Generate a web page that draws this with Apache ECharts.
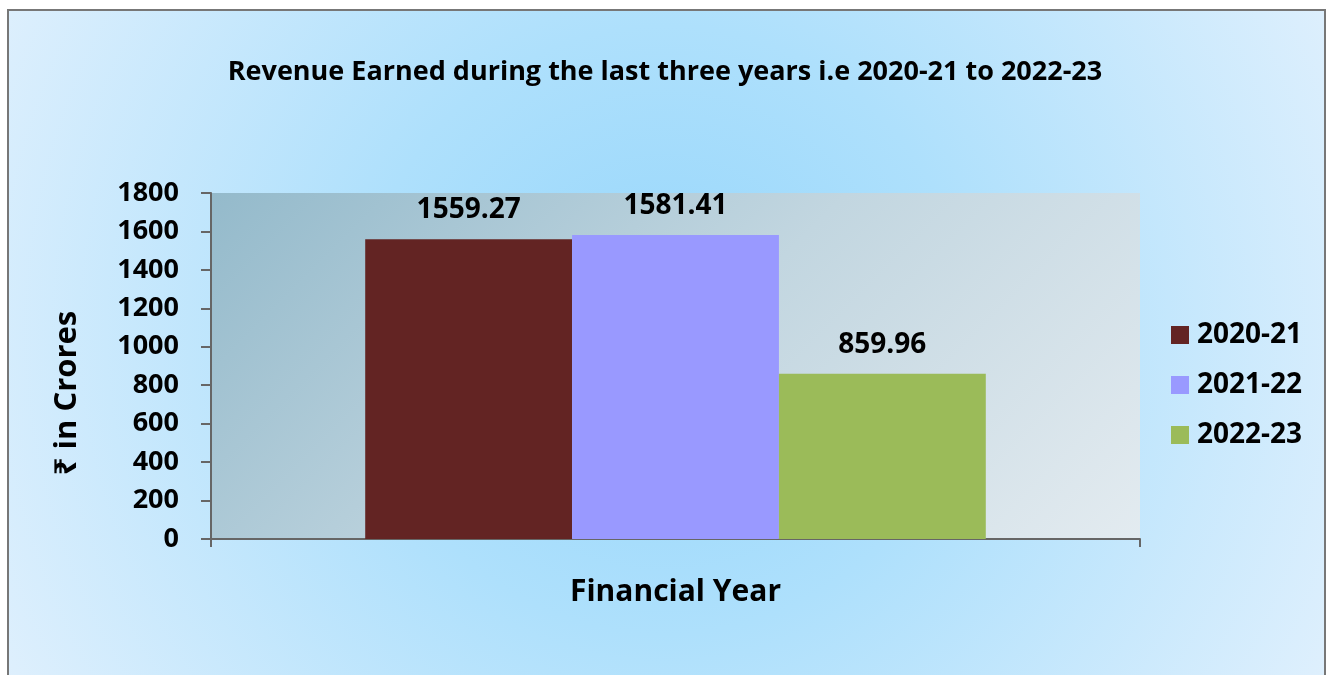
<!DOCTYPE html>
<html>
<head>
<meta charset="utf-8">
<script src="https://cdn.jsdelivr.net/npm/echarts@6/dist/echarts.min.js"></script>
<style>
html,body{margin:0;padding:0;background:#fff;}
#chart{width:1330px;height:675px;}
</style>
</head>
<body>
<div id="chart"></div>
<script>
const titleText = 'Revenue Earned during the last three years i.e 2020-21 to 2022-23';
const categories = [''];
const seriesNames = ['2020-21', '2021-22', '2022-23'];
const seriesValues = [[1559.27], [1581.41], [859.96]];
const seriesColors = ['#632423', '#9999ff', '#9bbb59'];
const yTicks = [0, 200, 400, 600, 800, 1000, 1200, 1400, 1600, 1800];
const yName = '₹ in Crores';
const xName = 'Financial Year';

const FONT = '"Open Sans", "Noto Sans", sans-serif';
const chart = echarts.init(document.getElementById('chart'), null, {renderer: 'canvas'});

const option = {
  backgroundColor: '#ffffff',
  animation: false,
  graphic: [{
    type: 'rect',
    z: -10,
    shape: {x: 8, y: 10, width: 1317, height: 700},
    style: {
      fill: {
        type: 'radial', x: 665, y: 330, r: 760, global: true,
        colorStops: [
          {offset: 0, color: '#96d6fb'},
          {offset: 0.4, color: '#aee0fc'},
          {offset: 1, color: '#e0f0fd'}
        ]
      },
      stroke: '#777777',
      lineWidth: 2
    }
  }],
  title: {
    text: titleText,
    left: 'center',
    top: 54,
    textStyle: {fontFamily: FONT, fontWeight: 'bold', fontSize: 27, color: '#000'}
  },
  legend: {
    orient: 'vertical',
    left: 1166,
    top: 316,
    itemWidth: 18,
    itemHeight: 18,
    itemGap: 22,
    data: seriesNames,
    icon: 'rect',
    textStyle: {fontFamily: FONT, fontWeight: 'bold', fontSize: 28, color: '#000', padding: [0, 0, 0, 3]}
  },
  grid: {
    left: 211, top: 193, width: 929, height: 346,
    show: true,
    borderWidth: 0,
    backgroundColor: {
      type: 'linear', x: 211, y: 193, x2: 848, y2: 830, global: true,
      colorStops: [
        {offset: 0, color: '#94bacb'},
        {offset: 0.5, color: '#c2d6e0'},
        {offset: 1, color: '#e3ebf0'}
      ]
    }
  },
  xAxis: {
    type: 'category',
    data: categories,
    name: xName,
    nameLocation: 'middle',
    nameGap: 38,
    nameTextStyle: {fontFamily: FONT, fontWeight: 'bold', fontSize: 30, color: '#000'},
    axisLine: {show: true, lineStyle: {color: '#666', width: 2}},
    axisTick: {show: true, length: 8, lineStyle: {color: '#666', width: 2}},
    axisLabel: {show: false}
  },
  yAxis: {
    type: 'value',
    min: 0, max: 1800, interval: 200,
    name: yName,
    nameLocation: 'middle',
    nameRotate: 90,
    nameGap: 128,
    nameTextStyle: {fontFamily: FONT, fontWeight: 'bold', fontSize: 31, color: '#000', padding: [0, 54, 0, 0]},
    axisLine: {show: true, lineStyle: {color: '#666', width: 2}},
    axisTick: {show: true, length: 10, lineStyle: {color: '#666', width: 2}},
    splitLine: {show: false},
    axisLabel: {
      margin: 32,
      fontFamily: FONT, fontWeight: 'bold', fontSize: 27, color: '#000',
      formatter: v => yTicks.includes(v) ? String(v) : ''
    }
  },
  series: seriesNames.map((name, i) => ({
    name: name,
    type: 'bar',
    data: seriesValues[i],
    barGap: '0%',
    barCategoryGap: '33.2%',
    itemStyle: {color: seriesColors[i]},
    label: {
      show: true,
      position: 'top',
      distance: 15,
      fontFamily: FONT, fontWeight: 'bold', fontSize: 28, color: '#000',
      formatter: p => p.value.toFixed(2)
    }
  }))
};
chart.setOption(option);
</script>
</body>
</html>
